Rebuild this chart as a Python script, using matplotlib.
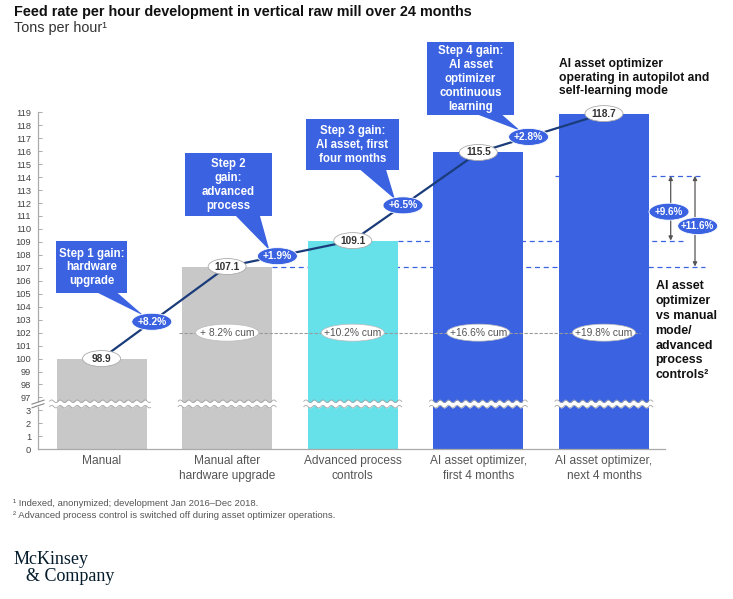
import matplotlib
matplotlib.use("Agg")
import matplotlib.pyplot as plt
import numpy as np
from matplotlib.patches import Polygon, Rectangle, Ellipse

# ---------------- data ----------------
categories = ["Manual", "Manual after\nhardware upgrade", "Advanced process\ncontrols",
              "AI asset optimizer,\nfirst 4 months", "AI asset optimizer,\nnext 4 months"]
bar_heights = [100.0, 107.1, 109.1, 115.9, 118.9]
value_labels = ["98.9", "107.1", "109.1", "115.5", "118.7"]
step_gains = ["+8.2%", "+1.9%", "+6.5%", "+2.8%"]
step_texts = ["Step 1 gain:\nhardware\nupgrade", "Step 2\ngain:\nadvanced\nprocess",
              "Step 3 gain:\nAI asset, first\nfour months",
              "Step 4 gain:\nAI asset\noptimizer\ncontinuous\nlearning"]
cum_labels = ["+ 8.2% cum", "+10.2% cum", "+16.6% cum", "+19.8% cum"]
cum_level = 102.0
ref_levels = [114.1, 109.1, 107.1]
compare_gains = ["+9.6%", "+11.6%"]
lower_ticks = [0, 1, 2, 3]
upper_ticks = list(range(97, 120))

# ---------------- style ----------------
FONT = "Liberation Sans"
plt.rcParams["font.family"] = [FONT, "DejaVu Sans"]
GRAY = "#c8c8c8"
CYAN = "#66e0e9"
BLUE = "#3a62e1"
NAVY = "#1b3c7a"
bar_colors = [GRAY, GRAY, CYAN, BLUE, BLUE]
BREAK = 93.0


def f(v):
    return v if v <= 3.5 else v - BREAK


W, H = 733, 599
fig = plt.figure(figsize=(W / 100, H / 100), dpi=100)
AX_L, AX_R, AX_B, AX_T = 38, 665, 449.3, 112.3
ax = fig.add_axes([AX_L / W, 1 - AX_B / H, (AX_R - AX_L) / W, (AX_B - AX_T) / H])
ax.set_xlim(-0.506, 4.486)
ax.set_ylim(0, 26)
XS = (AX_R - AX_L) / (4.486 + 0.506)   # px per x unit
YS = (AX_B - AX_T) / 26.0              # px per y unit


def P(x, y):
    """pixel -> data"""
    return (x - AX_L) / XS - 0.506, (AX_B - y) / YS


def dx(px):
    return px / XS


def dy(px):
    return px / YS


xs = np.arange(len(categories))
bw = 0.717
ax.bar(xs, [f(h) for h in bar_heights], width=bw, color=bar_colors, zorder=2, linewidth=0)

# spines and ticks
for s in ["top", "right", "left"]:
    ax.spines[s].set_visible(False)
ax.spines["bottom"].set_color("#aaaaaa")
ax.spines["bottom"].set_linewidth(0.9)
ax.set_xticks(xs)
ax.set_xticklabels(categories, fontsize=8.6, color="#555555", linespacing=1.3)
ax.tick_params(axis="x", length=0, pad=4)
yt = lower_ticks + upper_ticks
ax.set_yticks([f(t) for t in yt])
ax.set_yticklabels([str(t) for t in yt], fontsize=6.7, color="#444444")
ax.tick_params(axis="y", direction="in", length=3, width=0.7, color="#aaaaaa", pad=5)

# manual left spine with break
xl = -0.506
ax.plot([xl, xl], [0, 3.3], color="#aaaaaa", lw=0.9, clip_on=False, zorder=3)
ax.plot([xl, xl], [3.7, 26], color="#aaaaaa", lw=0.9, clip_on=False, zorder=3)
for off in (-0.14, 0.14):
    ax.plot([xl - dx(6), xl + dx(6)], [3.5 + off - dy(2), 3.5 + off + dy(2)],
            color="#888888", lw=0.8, clip_on=False, zorder=4)

# wavy break bands across bars
for i in xs:
    x0, x1 = i - bw / 2 - dx(4), i + bw / 2 + dx(4)
    if i == 0:
        x0 = i - bw / 2 - dx(7)
    wx = np.linspace(x0, x1, 400)
    s = dy(1.3) * np.sin(2 * np.pi * (wx - x0) / dx(8.5))
    lo, hi = 3.5 - dy(2.7) + s, 3.5 + dy(2.7) + s
    ax.fill_between(wx, lo, hi, color="white", lw=0, zorder=3)
    ax.plot(wx, lo, color="#a0a0a0", lw=0.55, zorder=3.1)
    ax.plot(wx, hi, color="#a0a0a0", lw=0.55, zorder=3.1)

# reference dashed lines (behind bars)
ref_spans = [(P(555, 0)[0], P(702, 0)[0]), (2 + bw / 2, P(683, 0)[0]), (1 + bw / 2, P(705, 0)[0])]
for lvl, (a, b) in zip(ref_levels, ref_spans):
    ax.plot([a, b], [f(lvl)] * 2, color=BLUE, lw=0.9, ls=(0, (4, 3)), zorder=1, clip_on=False)

# cumulative dotted line
ax.plot([1 - bw / 2 - dx(3), 4 + bw / 2 - dx(9)], [f(cum_level)] * 2, color="#9a9a9a",
        lw=0.8, ls=(0, (3, 1.5)), zorder=2.5)
for i, lab in enumerate(cum_labels):
    cx = i + 1
    ax.add_patch(Ellipse((cx, f(cum_level)), dx(63), dy(17), facecolor="white",
                         edgecolor="#bbbbbb", lw=0.5, zorder=4))
    ax.text(cx, f(cum_level), lab, ha="center", va="center", fontsize=7.4, color="#555555",
            zorder=5)

# progression line
ys = [f(h) for h in bar_heights]
ax.plot(xs, ys, color=NAVY, lw=1.6, zorder=4, solid_capstyle="round")

# value labels
for x, y, lab in zip(xs, ys, value_labels):
    ax.add_patch(Ellipse((x, y), dx(38), dy(16), facecolor="white", edgecolor="#aaaaaa",
                         lw=0.6, zorder=6, clip_on=False))
    ax.text(x, y, lab, ha="center", va="center", fontsize=7.3, fontweight="bold",
            color="#333333", zorder=7, clip_on=False)

# callouts + step gain bubbles
boxes = [(56, 241, 127, 293), (185, 153, 272, 216), (306, 119, 399, 170), (427, 42, 514, 115)]
for k in range(4):
    fr = 0.4
    bx = xs[k] + fr * (xs[k + 1] - xs[k])
    by = ys[k] + fr * (ys[k + 1] - ys[k])
    l, t, r, b = boxes[k]
    (x0, y1) = P(l, t)
    (x1, y0) = P(r, b)
    ax.add_patch(Rectangle((x0, y0), x1 - x0, y1 - y0, facecolor=BLUE, edgecolor="none",
                           zorder=8, clip_on=False))
    wbox = x1 - x0
    tri = [(x0 + 0.58 * wbox, y0 + dy(0.5)), (x0 + 0.86 * wbox, y0 + dy(0.5)),
           (bx - dx(8), by + dy(6))]
    ax.add_patch(Polygon(tri, closed=True, facecolor=BLUE, edgecolor="none", zorder=8,
                         clip_on=False))
    ax.text((x0 + x1) / 2, (y0 + y1) / 2 - dy(0.5), step_texts[k], ha="center", va="center",
            fontsize=8.3, fontweight="bold", color="white", linespacing=1.2, zorder=9,
            clip_on=False)
    ax.add_patch(Ellipse((bx, by), dx(40), dy(17), facecolor=BLUE, edgecolor="white",
                         lw=0.6, zorder=10, clip_on=False))
    ax.text(bx, by, step_gains[k], ha="center", va="center", fontsize=7.4, color="white",
            fontweight="bold", zorder=11, clip_on=False)

# comparison arrows
arrow_x = [P(670.7, 0)[0], P(695, 0)[0]]
arrow_ends = [ref_levels[1], ref_levels[2]]
bub_pos = [P(669, 211.7), P(697.7, 226)]
for axx, end, (bxx, byy), lab in zip(arrow_x, arrow_ends, bub_pos, compare_gains):
    ax.annotate("", xy=(axx, f(end)), xytext=(axx, f(ref_levels[0])),
                arrowprops=dict(arrowstyle="<|-|>", color="#555555", lw=0.9,
                                mutation_scale=6, shrinkA=0, shrinkB=0),
                annotation_clip=False, zorder=5)
    ax.add_patch(Ellipse((bxx, byy), dx(40), dy(17), facecolor=BLUE, edgecolor="white",
                         lw=0.6, zorder=10, clip_on=False))
    ax.text(bxx, byy, lab, ha="center", va="center", fontsize=7.1, color="white",
            fontweight="bold", zorder=11, clip_on=False)

# text annotations
fig.text(559 / W, 1 - 58 / H, "AI asset optimizer\noperating in autopilot and\nself-learning mode",
         ha="left", va="top", fontsize=8.7, fontweight="bold", color="#111111", linespacing=1.18)
fig.text(655.5 / W, 1 - 280 / H,
         "AI asset\noptimizer\nvs manual\nmode/\nadvanced\nprocess\ncontrols²",
         ha="left", va="top", fontsize=8.9, fontweight="bold", color="#111111", linespacing=1.32)

# title
fig.text(14 / W, 1 - 5 / H, "Feed rate per hour development in vertical raw mill over 24 months",
         ha="left", va="top", fontsize=10.4, fontweight="bold", color="#111111")
fig.text(14 / W, 1 - 21 / H, "Tons per hour¹", ha="left", va="top", fontsize=10.4,
         color="#333333")

# footnotes
fig.text(13 / W, 1 - 503 / H, "¹ Indexed, anonymized; development Jan 2016–Dec 2018.",
         ha="left", va="center", fontsize=6.8, color="#555555")
fig.text(13 / W, 1 - 516 / H,
         "² Advanced process control is switched off during asset optimizer operations.",
         ha="left", va="center", fontsize=6.8, color="#555555")

# logo
fig.text(14 / W, 1 - 564 / H, "McKinsey", ha="left", va="baseline", fontsize=13,
         family="Liberation Serif", color="#051c2c")
fig.text(26 / W, 1 - 581 / H, "& Company", ha="left", va="baseline", fontsize=13,
         family="Liberation Serif", color="#051c2c")

fig.savefig("out.png", dpi=100)
